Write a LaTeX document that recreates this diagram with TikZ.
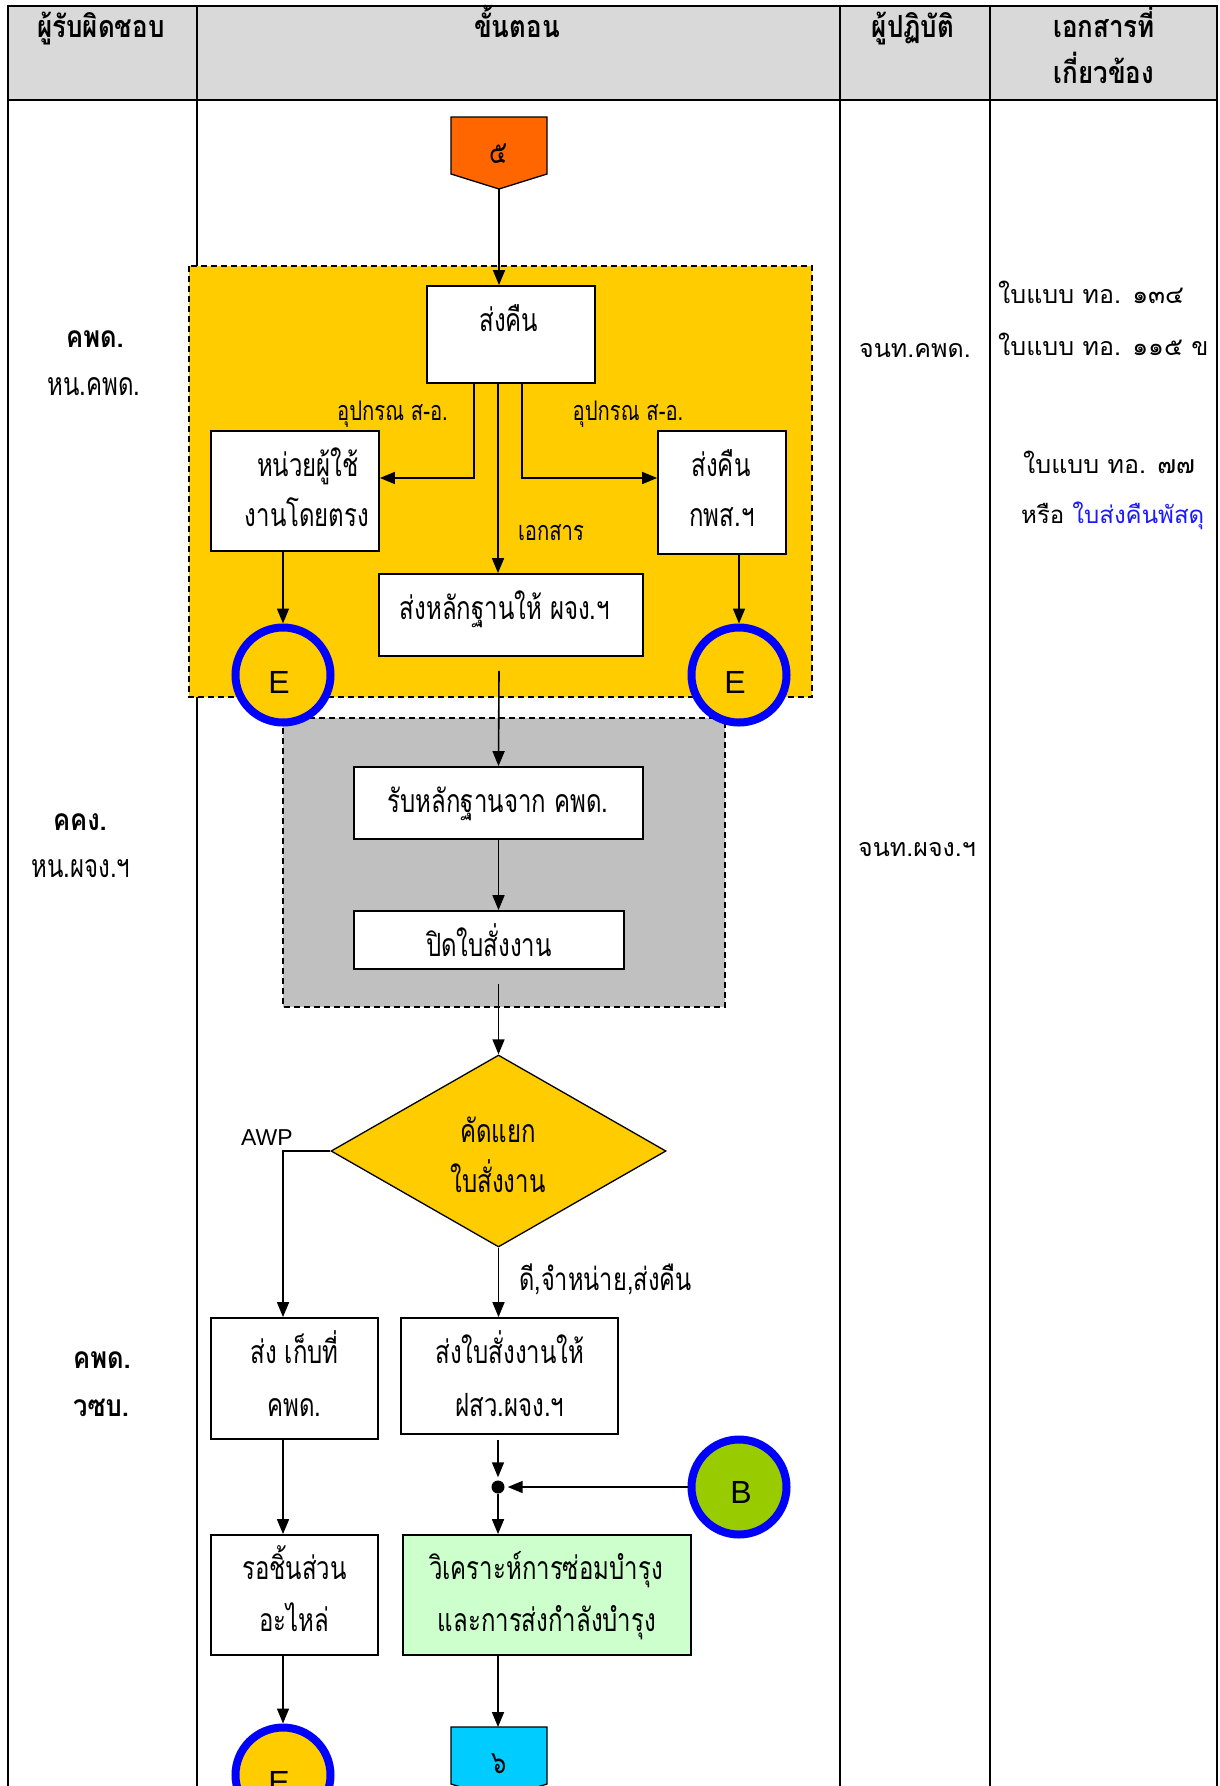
\documentclass[tikz,border=0pt]{standalone}
\usepackage{fontspec}
\setmainfont{Liberation Sans}
\newfontfamily\thn[Script=Thai,FakeStretch=0.75]{Loma}
\newfontfamily\thr[Script=Thai]{Loma}
\newfontfamily\thh[Script=Thai,FakeStretch=0.85]{Loma}
\usetikzlibrary{arrows.meta,shapes.geometric,calc}
\definecolor{hdr}{HTML}{D9D9D9}
\definecolor{yel}{HTML}{FFCC00}
\definecolor{gry}{HTML}{C0C0C0}
\definecolor{orng}{HTML}{FF6600}
\definecolor{cyn}{HTML}{00CCFF}
\definecolor{grn}{HTML}{99CC00}
\definecolor{lgrn}{HTML}{CCFFCC}
\definecolor{blu}{HTML}{0000FF}
\definecolor{lnk}{HTML}{1A1AFF}
\tikzset{
  tbl/.style={line width=2.5pt},
  box/.style={draw, line width=1.8pt, fill=white, inner sep=0pt},
  conn/.style={line width=1.6pt, -{Triangle[length=15pt,width=12pt]}},
  region/.style={draw, dash pattern=on 6pt off 4pt, line width=1.5pt},
  ecirc/.style={circle, draw=blu, line width=8pt, minimum size=95pt, inner sep=0pt},
  bt/.style={font=\thn\fontsize{32}{32}\selectfont, inner sep=0pt, anchor=base},
  st/.style={font=\thn\fontsize{27}{27}\selectfont, inner sep=0pt, anchor=base},
  ht/.style={font=\thh\bfseries\fontsize{30.5}{30.5}\selectfont, inner sep=0pt, anchor=base},
  lb/.style={font=\thh\bfseries\fontsize{30}{30}\selectfont, inner sep=0pt, anchor=base},
  lr/.style={font=\thn\fontsize{32}{32}\selectfont, inner sep=0pt, anchor=base},
  rt/.style={font=\thr\fontsize{25}{25}\selectfont, inner sep=0pt, anchor=base west},
  mt/.style={font=\thr\fontsize{25}{25}\selectfont, inner sep=0pt, anchor=base},
  lt/.style={font=\fontsize{32}{32}\selectfont, inner sep=0pt, anchor=base},
}
\begin{document}
\begin{tikzpicture}[x=1pt,y=-1pt]
\useasboundingbox (0,0) rectangle (1219,1786);
\clip (0,0) rectangle (1219,1786);
\fill[white] (0,0) rectangle (1219,1786);
% table
\fill[hdr] (8,6) rectangle (1217,100);
\draw[tbl] (8,1800) -- (8,6) -- (1217,6) -- (1217,1800);
\draw[tbl] (8,100) -- (1217,100);
\draw[tbl] (197,6) -- (197,1800);
\draw[tbl] (840,6) -- (840,1800);
\draw[tbl] (990,6) -- (990,1800);
\node[ht] (h1) at (101,37) {ผู้รับผิดชอบ};
\node[ht] (h2) at (517,37) {ขั้นตอน};
\node[ht] (h3) at (913,37) {ผู้ปฏิบัติ};
\node[ht] (h4) at (1104,37) {เอกสารที่};
\node[ht] (h5) at (1104,83) {เกี่ยวข้อง};
% lane labels
\node[lb] (la1) at (95,347) {คพด.};
\node[lr] (la2) at (94,395) {หน.คพด.};
\node[lb] (lb1) at (80,830) {คคง.};
\node[lr] (lb2) at (81,877) {หน.ผจง.ฯ};
\node[lb] (lc1) at (102,1368) {คพด.};
\node[lb] (lc2) at (101,1416) {วซบ.};
\node[mt] (p1) at (915,357) {จนท.คพด.};
\node[mt] (p2) at (917,856) {จนท.ผจง.ฯ};
\node[rt] (d1t) at (998,303) {ใบแบบ ทอ. ๑๓๔};
\node[rt] (d2t) at (998,355) {ใบแบบ ทอ. ๑๑๕ ข};
\node[rt] (d3t) at (1023,473) {ใบแบบ ทอ. ๗๗};
\node[rt, font=\thr\fontsize{24}{24}\selectfont] (d4t) at (1021,523) {หรือ \textcolor{lnk}{ใบส่งคืนพัสดุ}};
% regions
\draw[region, fill=yel] (189,266) rectangle (812,697);
\draw[region, fill=gry] (283,718) rectangle (725,1007);
% off-page connector 5
\draw[line width=1.3pt, fill=orng] (451,117) -- (547,117) -- (547,174) -- (499,189) -- (451,174) -- cycle;
\coordinate (c5tip) at (499,189);
\node[bt] (c5) at (499,163) {๕};
% boxes
\node[box, minimum width=168pt, minimum height=97pt] (s1) at (511,334.5) {};
\node[bt] (s1t) at (509,331) {ส่งคืน};
\node[box, minimum width=168pt, minimum height=120pt] (u1) at (295,491) {};
\node[bt] (u1a) at (308,476) {หน่วยผู้ใช้};
\node[bt] (u1b) at (307,526) {งานโดยตรง};
\node[box, minimum width=128pt, minimum height=123pt] (r1) at (722,492.5) {};
\node[bt] (r1a) at (721,476) {ส่งคืน};
\node[bt] (r1b) at (722,526) {กพส.ฯ};
\node[box, minimum width=264pt, minimum height=82pt] (m1) at (511,615) {};
\node[bt] (m1t) at (505,619) {ส่งหลักฐานให้ ผจง.ฯ};
\node[st] (q1) at (392.5,420) {อุปกรณ ส-อ.};
\node[st] (q2) at (628,420) {อุปกรณ ส-อ.};
\node[st] (q3) at (551,540) {เอกสาร};
\node[ecirc, fill=yel] (EL) at (283,675) {};
\node[lt] (ELt) at (279,693) {E};
\node[ecirc, fill=yel] (ER) at (739,675) {};
\node[lt] (ERt) at (735,693) {E};
\node[box, minimum width=289pt, minimum height=72pt] (g1) at (498.5,803) {};
\node[bt] (g1t) at (498,812) {รับหลักฐานจาก คพด.};
\node[box, minimum width=270pt, minimum height=58pt] (g2) at (489,940) {};
\node[bt] (g2t) at (489,956) {ปิดใบสั่งงาน};
\node[diamond, draw, fill=yel, line width=1.3pt, minimum width=335pt, minimum height=192pt, inner sep=0pt] (dd) at (498.5,1151) {};
\node[bt] (dda) at (498,1142) {คัดแยก};
\node[bt] (ddb) at (498,1192) {ใบสั่งงาน};
\node[font=\fontsize{23}{23}\selectfont, inner sep=0pt, anchor=base] (awp) at (267,1145) {AWP};
\node[font=\thn\fontsize{31.5}{31.5}\selectfont, inner sep=0pt, anchor=base west] (ok) at (519,1290) {ดี,จำหน่าย,ส่งคืน};
\node[box, minimum width=167pt, minimum height=121pt] (l1) at (294.5,1378.5) {};
\node[bt] (l1a) at (294.5,1363) {ส่ง เก็บที่};
\node[bt] (l1b) at (294.5,1416) {คพด.};
\node[box, minimum width=217pt, minimum height=116pt] (r2) at (509.5,1376) {};
\node[bt] (r2a) at (510,1363) {ส่งใบสั่งงานให้};
\node[bt] (r2b) at (510,1416) {ฝสว.ผจง.ฯ};
\node[box, minimum width=167pt, minimum height=120pt] (l2) at (294.5,1595) {};
\node[bt] (l2a) at (294.5,1579) {รอชิ้นส่วน};
\node[bt] (l2b) at (294.5,1631) {อะไหล่};
\node[box, fill=lgrn, minimum width=288pt, minimum height=120pt] (gr) at (547,1595) {};
\node[bt] (gra) at (546,1579) {วิเคราะห์การซ่อมบำรุง};
\node[bt] (grb) at (547,1631) {และการส่งกำลังบำรุง};
\node[circle, fill=black, inner sep=0pt, minimum size=13pt] (jn) at (498,1487) {};
\node[ecirc, fill=grn] (B) at (739,1487) {};
\node[lt] (Bt) at (741,1503) {B};
\node[ecirc, fill=yel] (E3) at (283,1775) {};
\node[lt] (E3t) at (279,1793) {E};
\draw[line width=1.3pt, fill=cyn] (451,1727) -- (547,1727) -- (547,1784) -- (499,1799) -- (451,1784) -- cycle;
\coordinate (c6top) at (498,1727);
\node[bt] (c6) at (499,1773) {๖};
% connectors
\draw[conn] (c5tip) -- (s1.north -| c5tip);
\draw[conn] ($(s1.south)+(-37,0)$) |- ([yshift=13pt]u1.east);
\draw[conn] ($(s1.south)+(11,0)$) |- ([yshift=14.5pt]r1.west);
\draw[conn] ($(s1.south)+(-13,0)$) -- ($(m1.north)+(-13,0)$);
\draw[conn] (u1.south -| EL) -- (EL.north);
\draw[conn] (r1.south -| ER) -- (ER.north);
\draw[conn] ($(m1.south)+(-12,14)$) -- (g1.north);
\draw[conn] (g1.south) -- (g1.south |- g2.north);
\draw[conn] ($(g1.south |- g2.south)+(0,14)$) -- (dd.north);
\draw[conn] (dd.west) -| ($(l1.north)+(-11.5,0)$);
\draw[conn] (dd.south) -- (dd.south |- r2.north);
\draw[conn] ($(l1.south)+(-11.5,0)$) -- ($(l2.north)+(-11.5,0)$);
\draw[conn] ($(r2.south -| jn)+(0,5)$) -- ([yshift=3pt]jn.north);
\draw[conn] (B.west) -- ([xshift=3pt]jn.east);
\draw[conn] (jn.south) -- (jn |- gr.north);
\draw[conn] (jn |- gr.south) -- (c6top);
\draw[conn] ($(l2.south)+(-11.5,0)$) -- (E3.north);
\end{tikzpicture}
\end{document}
